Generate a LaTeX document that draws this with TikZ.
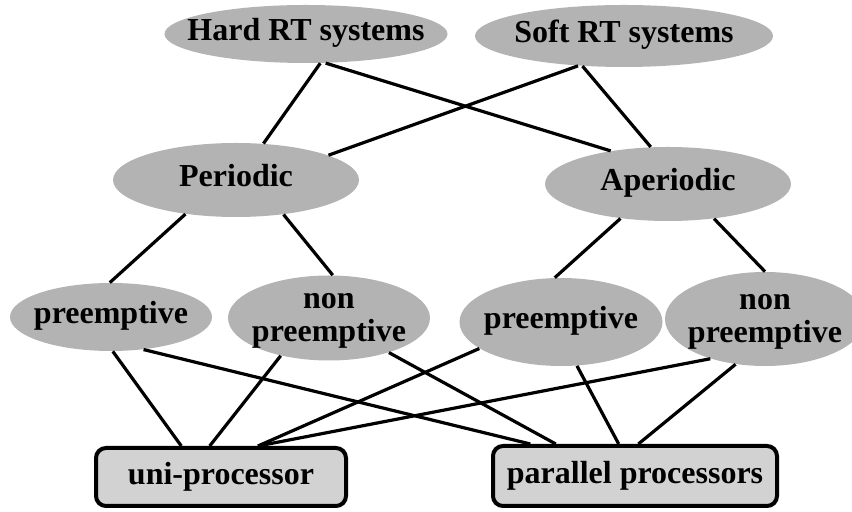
\documentclass[tikz,border=0pt]{standalone}
\usepackage{fontspec}
\setmainfont{Liberation Serif}
\usepackage{tikz}
\usetikzlibrary{shapes.geometric}

\definecolor{ovalgray}{RGB}{179,179,179}
\definecolor{boxgray}{RGB}{210,210,210}
\newcommand{\ovaltext}[1]{\makebox[0pt]{\begin{tabular}{@{}c@{}}#1\end{tabular}}}

\tikzset{
    oval/.style={ellipse, fill=ovalgray, inner sep=0pt},
    twoline/.style={inner ysep=-2pt},
    procbox/.style={rectangle, rounded corners=5pt, draw, line width=2pt, fill=boxgray, inner sep=0pt},
    link/.style={line width=1.6pt}
}

\begin{document}
\begin{tikzpicture}[x=0.5pt, y=-0.5pt, font=\fontsize{16}{16.5}\selectfont\bfseries]
        \useasboundingbox (0, 0) rectangle (852, 512);

        \node [oval, minimum width=141.5pt, minimum height=29pt] (hard) at (306, 34) {\ovaltext{Hard RT systems}};
        \node [oval, minimum width=149pt, minimum height=31pt] (soft) at (624, 36) {\ovaltext{Soft RT systems}};

        \node [oval, minimum width=123pt, minimum height=37pt] (periodic) at (236, 180) {\ovaltext{Periodic}};
        \node [oval, minimum width=123pt, minimum height=37pt] (aperiodic) at (668, 184) {\ovaltext{Aperiodic}};

        \node [oval, minimum width=101pt, minimum height=34pt] (preL) at (111, 317) {\ovaltext{preemptive}};
        \node [oval, twoline, minimum width=101pt, minimum height=42.5pt] (nonpreL) at (329, 318) {\ovaltext{non\\preemptive}};
        \node [oval, minimum width=101.5pt, minimum height=44pt] (preR) at (561, 322) {\ovaltext{preemptive}};
        \node [oval, twoline, minimum width=100pt, minimum height=47pt] (nonpreR) at (765, 319) {\ovaltext{non\\preemptive}};

        \node [procbox, minimum width=125pt, minimum height=29pt] (uni) at (221, 477) {uni-processor};
        \node [procbox, minimum width=142pt, minimum height=30pt] (par) at (635, 476) {parallel processors};

        \draw [link] (hard.296) -- (periodic.53);
        \draw [link] (hard.304) -- (aperiodic.150);
        \draw [link] (soft.213) -- (periodic.15);
        \draw [link] (soft.216) -- (aperiodic.115);

        \draw [link] (periodic.214) -- (preL.92);
        \draw [link] (periodic.324) -- (nonpreL.85);
        \draw [link] (aperiodic.216) -- (preR.98);
        \draw [link] (aperiodic.323) -- (nonpreR.90);

        \draw [link] (preL.273) -- (uni.142);
        \draw [link] (preL.315) -- (par.163);
        \draw [link] (nonpreL.218) -- (uni.110);
        \draw [link] (nonpreL.330) -- (par.158);
        \draw [link] (preR.198) -- (uni.40);
        \draw [link] (nonpreR.216) -- (uni.40);
        \draw [link] (preR.290) -- (par.117);
        \draw [link] (nonpreR.237) -- (par.84);
\end{tikzpicture}
\end{document}
